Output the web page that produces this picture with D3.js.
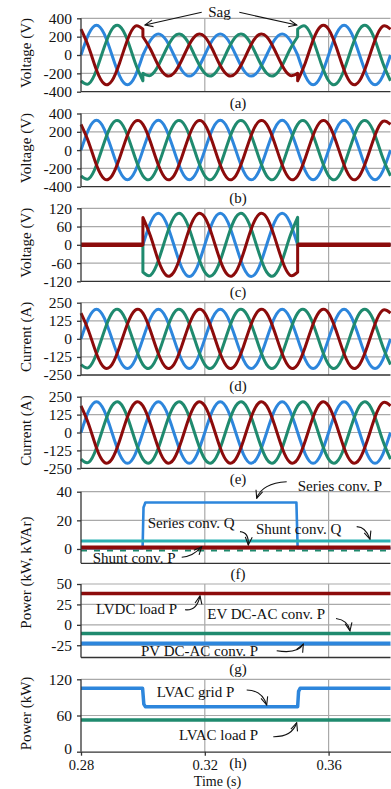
<!DOCTYPE html>
<html>
<head>
<meta charset="utf-8">
<script src="https://cdn.jsdelivr.net/npm/d3@7"></script>
<style>
  body { margin: 0; background: #fff; }
  text { font-family: "Liberation Serif", "Times New Roman", serif; fill: #111; }
</style>
</head>
<body>
<svg id="chart" width="391" height="789"></svg>
<script>
// sample instants (s), every 45 degrees of a 50 Hz cycle
const time = [0.28,0.2825,0.285,0.2875,0.29,0.2925,0.295,0.2975,0.30,0.3025,0.305,0.3075,0.31,0.3125,0.315,0.3175,
  0.32,0.3225,0.325,0.3275,0.33,0.3325,0.335,0.3375,0.34,0.3425,0.345,0.3475,0.35,0.3525,0.355,0.3575,
  0.36,0.3625,0.365,0.3675,0.37,0.3725,0.375,0.3775,0.38];

// (a) grid voltage: before sag / during sag / after sag
const gridVa = [[0,230,325,230,0,-230,-325,-230,0],
  [0,163,230,163,0,-163,-230,-163,0,163,230,163,0,-163,-230,-163,0,163,230,163,0],
  [0,-230,-325,-230,0,230,325,230,0,-230,-325,-230,0]];
const gridVb = [[-281,-314,-163,84,281,314,163,-84,-281],
  [-199,-222,-115,60,199,222,115,-60,-199,-222,-115,60,199,222,115,-60,-199,-222,-115,60,199],
  [281,314,163,-84,-281,-314,-163,84,281,314,163,-84,-281]];
const gridVc = [[281,84,-163,-314,-281,-84,163,314,281],
  [199,60,-115,-222,-199,-60,115,222,199,60,-115,-222,-199,-60,115,222,199,60,-115,-222,-199],
  [-281,-84,163,314,281,84,-163,-314,-281,-84,163,314,281]];

// (b) load voltage
const loadVa = [[0,230,325,230,0,-230,-325,-230,0,230,325,230,0,-230,-325,-230,0,230,325,230,0,-230,-325,-230,
  0,230,325,230,0,-230,-325,-230,0,230,325,230,0,-230,-325,-230,0]];
const loadVb = [[-281,-314,-163,84,281,314,163,-84,-281,-314,-163,84,281,314,163,-84,-281,-314,-163,84,281,314,163,-84,
  -281,-314,-163,84,281,314,163,-84,-281,-314,-163,84,281,314,163,-84,-281]];
const loadVc = [[281,84,-163,-314,-281,-84,163,314,281,84,-163,-314,-281,-84,163,314,281,84,-163,-314,-281,-84,163,314,
  281,84,-163,-314,-281,-84,163,314,281,84,-163,-314,-281,-84,163,314,281]];

// (c) series injected voltage
const injVa = [[0,0,0,0,0,0,0,0,0],
  [0,74,104,74,0,-74,-104,-74,0,74,104,74,0,-74,-104,-74,0,74,104,74,0],
  [0,0,0,0,0,0,0,0,0,0,0,0,0]];
const injVb = [[0,0,0,0,0,0,0,0,0],
  [-90,-100,-52,27,90,100,52,-27,-90,-100,-52,27,90,100,52,-27,-90,-100,-52,27,90],
  [0,0,0,0,0,0,0,0,0,0,0,0,0]];
const injVc = [[0,0,0,0,0,0,0,0,0],
  [90,27,-52,-100,-90,-27,52,100,90,27,-52,-100,-90,-27,52,100,90,27,-52,-100,-90],
  [0,0,0,0,0,0,0,0,0,0,0,0,0]];

// (d) load current
const loadIa = [[0,145,205,145,0,-145,-205,-145,0,145,205,145,0,-145,-205,-145,0,145,205,145,0,-145,-205,-145,
  0,145,205,145,0,-145,-205,-145,0,145,205,145,0,-145,-205,-145,0]];
const loadIb = [[-178,-198,-103,53,178,198,103,-53,-178,-198,-103,53,178,198,103,-53,-178,-198,-103,53,178,198,103,-53,
  -178,-198,-103,53,178,198,103,-53,-178,-198,-103,53,178,198,103,-53,-178]];
const loadIc = [[178,53,-103,-198,-178,-53,103,198,178,53,-103,-198,-178,-53,103,198,178,53,-103,-198,-178,-53,103,198,
  178,53,-103,-198,-178,-53,103,198,178,53,-103,-198,-178,-53,103,198,178]];

// (e) grid current
const gridIa = [[0,152,215,152,0,-152,-215,-152,0,152,215,152,0,-152,-215,-152,0,152,215,152,0,-152,-215,-152,
  0,152,215,152,0,-152,-215,-152,0,152,215,152,0,-152,-215,-152,0]];
const gridIb = [[-186,-208,-108,56,186,208,108,-56,-186,-208,-108,56,186,208,108,-56,-186,-208,-108,56,186,208,108,-56,
  -186,-208,-108,56,186,208,108,-56,-186,-208,-108,56,186,208,108,-56,-186]];
const gridIc = [[186,56,-108,-208,-186,-56,108,208,186,56,-108,-208,-186,-56,108,208,186,56,-108,-208,-186,-56,108,208,
  186,56,-108,-208,-186,-56,108,208,186,56,-108,-208,-186,-56,108,208,186]];

// (f) converter powers
const stepTime = [0.28,0.2999,0.3002,0.3008,0.3496,0.35,0.38];
const seriesP = [[0.5,0.5,29,32.5,32.5,0.5,0.5]];
const flatTime = [0.28,0.38];
const seriesQ = [[-1,-1]];
const shuntQ = [[5.5,5.5]];
const shuntP = [[1,1]];

// (g) DC side powers
const lvdcLoadP = [[38.5,38.5]];
const evP = [[-10.5,-10.5]];
const pvP = [[-23,-23]];

// (h) LVAC powers
const gridPTime = [0.28,0.2999,0.3003,0.3008,0.35,0.3503,0.3508,0.38];
const lvacGridP = [[105,105,79,74.5,74.5,100,105,105]];
const lvacLoadP = [[52.5,52.5]];

const ticksV = [-400,-200,0,200,400];
const ticksInj = [-120,-60,0,60,120];
const ticksI = [-250,-125,0,125,250];
const ticksF = [0,20,40];
const ticksG = [-25,0,25,50];
const ticksH = [0,60,120];
const timeTicks = [0.28,0.32,0.36];

const blue = '#2d86dc', green = '#1f8a6e', red = '#8c0b0b', cyan = '#2bb1b3';

const panels = [
  {tag:'(a)', name:'Voltage (V)', domain:[-400,400], ticks:ticksV, top:18.3, bottom:91.7,
   series:[{t:time,v:gridVa,c:blue},{t:time,v:gridVb,c:green},{t:time,v:gridVc,c:red}]},
  {tag:'(b)', name:'Voltage (V)', domain:[-400,400], ticks:ticksV, top:113.5, bottom:186.7,
   series:[{t:time,v:loadVa,c:blue},{t:time,v:loadVb,c:green},{t:time,v:loadVc,c:red}]},
  {tag:'(c)', name:'Voltage (V)', domain:[-120,120], ticks:ticksInj, top:208.3, bottom:281.3,
   series:[{t:time,v:injVa,c:blue},{t:time,v:injVb,c:green},{t:time,v:injVc,c:red,thick:[0,2]}]},
  {tag:'(d)', name:'Current (A)', domain:[-250,250], ticks:ticksI, top:302.7, bottom:375,
   series:[{t:time,v:loadIa,c:blue},{t:time,v:loadIb,c:green},{t:time,v:loadIc,c:red}]},
  {tag:'(e)', name:'Current (A)', domain:[-250,250], ticks:ticksI, top:396.7, bottom:468.3,
   series:[{t:time,v:gridIa,c:blue},{t:time,v:gridIb,c:green},{t:time,v:gridIc,c:red}]},
  {tag:'(f)', name:'Power (kW, kVAr)', nameSpan:2, domain:[-10,40], ticks:ticksF, top:491.7, bottom:563.3,
   series:[{t:flatTime,v:seriesQ,c:green,w:2,lin:true,dash:'6,7'},{t:stepTime,v:seriesP,c:blue,w:2.6,lin:true},
           {t:flatTime,v:shuntQ,c:cyan,w:3,lin:true},{t:flatTime,v:shuntP,c:red,w:4,lin:true}]},
  {tag:'(g)', name:null, domain:[-40,50], ticks:ticksG, top:584, bottom:657.5,
   series:[{t:flatTime,v:lvdcLoadP,c:red,w:3.5,lin:true},{t:flatTime,v:evP,c:green,w:3.5,lin:true},
           {t:flatTime,v:pvP,c:blue,w:4,lin:true}]},
  {tag:'(h)', name:'Power (kW)', domain:[0,120], ticks:ticksH, top:679.3, bottom:751.7, xAxis:true,
   series:[{t:gridPTime,v:lvacGridP,c:blue,w:3.5,lin:true},{t:flatTime,v:lvacLoadP,c:green,w:3.5,lin:true}]}
];

// annotations in data units of their panel
const notes = [
  {p:0, text:'Sag', t:0.32475, v:409, anchor:'middle'},
  {p:5, text:'Series conv. P', t:0.3500, v:40.2},
  {p:5, text:'Series conv. Q', t:0.30155, v:14.7},
  {p:5, text:'Shunt conv. Q', t:0.33654, v:10.8},
  {p:5, text:'Shunt conv. P', t:0.28378, v:-9.8},
  {p:6, text:'LVDC load P', t:0.28485, v:13.1},
  {p:6, text:'EV DC-AC conv. P', t:0.32081, v:7.0},
  {p:6, text:'PV DC-AC conv. P', t:0.29939, v:-37.7},
  {p:7, text:'LVAC grid P', t:0.30446, v:90.7},
  {p:7, text:'LVAC load P', t:0.31166, v:18.6}
];
const arrows = [
  {p:0, from:[0.319,465], to:[0.30068,327]},
  {p:0, from:[0.33115,465], to:[0.34969,327]},
  {p:5, from:[0.34646,47], ctrl:[0.33848,46.1], to:[0.33677,35.4]},
  {p:5, from:[0.33137,12.1], ctrl:[0.3343,11.6], to:[0.33405,2.8]},
  {p:5, from:[0.36908,15.6], ctrl:[0.37209,15.4], to:[0.37338,6.8]},
  {p:5, from:[0.31254,-5.8], ctrl:[0.3162,-5.3], to:[0.319,1.6]},
  {p:6, from:[0.3136,18.4], ctrl:[0.31748,16.8], to:[0.31845,35.5]},
  {p:6, from:[0.36239,7.8], ctrl:[0.36626,5.8], to:[0.36691,-7.3]},
  {p:6, from:[0.34323,-31.8], ctrl:[0.35011,-35.9], to:[0.35183,-23.6]},
  {p:7, from:[0.33354,102.3], ctrl:[0.33848,102.3], to:[0.34,77.4]},
  {p:7, from:[0.34213,24.9], ctrl:[0.34818,24.4], to:[0.34969,48]}
];

const svg = d3.select('#chart');
const x = d3.scaleLinear().domain([0.28, 0.38]).range([81, 390.5]);

svg.append('defs').append('marker')
  .attr('id', 'arr').attr('viewBox', '0 0 10 10')
  .attr('refX', 9).attr('refY', 5)
  .attr('markerWidth', 9).attr('markerHeight', 9)
  .attr('orient', 'auto')
  .append('path').attr('d', 'M1,1.5 L9,5 L1,8.5')
  .attr('fill', 'none').attr('stroke', '#111').attr('stroke-width', 1.1);

panels.forEach((p, i) => {
  p.y = d3.scaleLinear().domain(p.domain).range([p.bottom, p.top]);
  const g = svg.append('g');

  // grid
  g.selectAll('.hg').data(p.ticks.filter(v => v !== p.domain[0])).enter()
    .append('line')
    .attr('x1', x(0.28)).attr('x2', x(0.38))
    .attr('y1', d => p.y(d)).attr('y2', d => p.y(d))
    .attr('stroke', '#a9a9a9').attr('stroke-width', 1.2);
  g.selectAll('.vg').data([0.32, 0.36]).enter()
    .append('line')
    .attr('x1', d => x(d)).attr('x2', d => x(d))
    .attr('y1', p.y(d3.max(p.ticks))).attr('y2', p.bottom)
    .attr('stroke', '#a9a9a9').attr('stroke-width', 1.2);

  // series
  p.series.forEach(s => {
    const line = d3.line().x(d => x(d[0])).y(d => p.y(d[1]))
      .curve(s.lin ? d3.curveLinear : d3.curveNatural);
    let i0 = 0;
    const segs = s.v.map(seg => {
      const pts = seg.map((v, j) => [s.t[i0 + j], v]);
      i0 += seg.length - 1;
      return line(pts);
    });
    g.append('path').attr('d', segs.map((d, k) => k ? d.replace(/^M/, 'L') : d).join(''))
      .attr('fill', 'none').attr('stroke', s.c)
      .attr('stroke-width', s.w || 3)
      .attr('stroke-linejoin', 'round')
      .attr('stroke-dasharray', s.dash || null);
    // noisy quiet stretches drawn as a wider band
    (s.thick || []).forEach(k => {
      g.append('path').attr('d', segs[k]).attr('fill', 'none')
        .attr('stroke', s.c).attr('stroke-width', 4.5);
    });
  });

  // bottom axis line
  if (p.xAxis) {
    const ax = g.append('g').attr('transform', `translate(0,${p.bottom})`)
      .call(d3.axisBottom(x).tickValues(timeTicks).tickSize(4).tickSizeOuter(0)
        .tickPadding(3.9).tickFormat(d3.format('.2f')));
    ax.selectAll('text').attr('font-size', 14.5).attr('fill', '#111')
      .attr('font-family', '"Liberation Serif", serif');
    ax.selectAll('line, path').attr('stroke', '#333').attr('stroke-width', 1.3);
  } else {
    g.append('line').attr('x1', x(0.28)).attr('x2', x(0.38))
      .attr('y1', p.bottom).attr('y2', p.bottom)
      .attr('stroke', '#333').attr('stroke-width', 1.3);
  }

  // left axis
  const ay = g.append('g').attr('transform', `translate(${x(0.28)},0)`)
    .call(d3.axisLeft(p.y).tickValues(p.ticks).tickSize(4).tickSizeOuter(0).tickPadding(5)
      .tickFormat(d => String(d)));
  ay.select('.domain').attr('d', `M0,${p.y(d3.max(p.ticks))}V${p.bottom}`);
  ay.selectAll('text').attr('font-size', 15.5).attr('fill', '#111')
    .attr('font-family', '"Liberation Serif", serif');
  if (p.xAxis) ay.selectAll('text').filter(d => d === p.domain[0]).attr('dy', '0.12em');
  ay.selectAll('line, path').attr('stroke', '#333').attr('stroke-width', 1.3);

  // axis name
  if (p.name) {
    const bottom = p.nameSpan ? panels[i + 1].bottom : p.bottom;
    const cy = (p.top + bottom) / 2 - 2;
    svg.append('text').attr('transform', `translate(31,${cy}) rotate(-90)`)
      .attr('text-anchor', 'middle').attr('font-size', 15).text(p.name);
  }

  // panel tag
  svg.append('text').attr('x', 238).attr('y', p.bottom + 16)
    .attr('text-anchor', 'middle').attr('font-size', 15).text(p.tag);
});

// annotations
notes.forEach(n => {
  const p = panels[n.p];
  svg.append('text').attr('x', x(n.t)).attr('y', p.y(n.v))
    .attr('text-anchor', n.anchor || 'start').attr('font-size', 15).text(n.text);
});
arrows.forEach(a => {
  const p = panels[a.p];
  const f = [x(a.from[0]), p.y(a.from[1])], t = [x(a.to[0]), p.y(a.to[1])];
  const d = a.ctrl
    ? `M${f}Q${[x(a.ctrl[0]), p.y(a.ctrl[1])]} ${t}`
    : `M${f}L${t}`;
  svg.append('path').attr('d', d).attr('fill', 'none')
    .attr('stroke', '#111').attr('stroke-width', 1.1)
    .attr('marker-end', 'url(#arr)');
});

svg.append('text').attr('x', 217.5).attr('y', 785.6)
  .attr('text-anchor', 'middle').attr('font-size', 14).text('Time (s)');
</script>
</body>
</html>
